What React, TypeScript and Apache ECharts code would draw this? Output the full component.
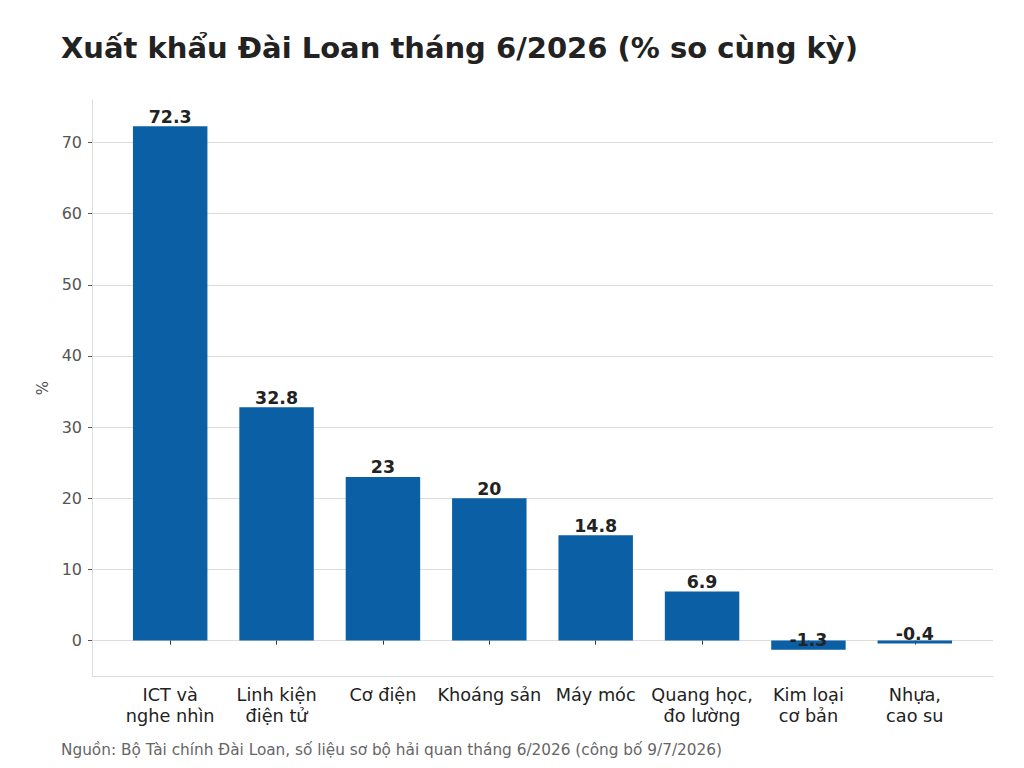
import { useEffect, useRef } from 'react';
import * as echarts from 'echarts';

const categories = [
  'ICT và\nnghe nhìn',
  'Linh kiện\nđiện tử',
  'Cơ điện',
  'Khoáng sản',
  'Máy móc',
  'Quang học,\nđo lường',
  'Kim loại\ncơ bản',
  'Nhựa,\ncao su',
];
const growth = [72.3, 32.8, 23, 20, 14.8, 6.9, -1.3, -0.4];
const yTicks = [0, 10, 20, 30, 40, 50, 60, 70];
const yMin = -4.98;
const yMax = 75.98;

const FONT = '"DejaVu Sans", sans-serif';

export default function App() {
  const ref = useRef<HTMLDivElement>(null);

  useEffect(() => {
    document.body.style.margin = '0';
    if (!ref.current) {
      return undefined;
    }

    const chart = echarts.init(ref.current, undefined, { renderer: 'svg' });
    const option: echarts.EChartsOption = {
      animation: false,
      backgroundColor: '#fff',
      textStyle: { fontFamily: FONT },
      title: [
        {
          text: 'Xuất khẩu Đài Loan tháng 6/2026 (% so cùng kỳ)',
          left: 56,
          top: 28,
          textStyle: { fontFamily: FONT, fontSize: 29, fontWeight: 'bold', color: '#222' },
        },
        {
          text: 'Nguồn: Bộ Tài chính Đài Loan, số liệu sơ bộ hải quan tháng 6/2026 (công bố 9/7/2026)',
          left: 56,
          top: 737,
          textStyle: { fontFamily: FONT, fontSize: 15.3, fontWeight: 'normal', color: '#666' },
        },
      ],
      grid: [
        // outer frame: spines, y labels, gridlines
        { left: 92, right: 31, top: 100, bottom: 92 },
        // inner area for the bars
        { left: 117, right: 56, top: 100, bottom: 92 },
      ],
      xAxis: [
        {
          gridIndex: 0,
          type: 'value',
          min: 0,
          max: 1,
          axisLine: { show: true, onZero: false, lineStyle: { color: '#dddddd', width: 1 } },
          axisTick: { show: false },
          axisLabel: { show: false },
          splitLine: { show: false },
        },
        {
          gridIndex: 1,
          type: 'category',
          data: categories,
          axisLine: { show: false },
          axisTick: { show: true, alignWithLabel: true, length: 4, lineStyle: { color: '#333' } },
          axisLabel: { color: '#222', fontSize: 17.7, lineHeight: 21, margin: 8, interval: 0, fontFamily: FONT },
        },
      ],
      yAxis: [
        {
          gridIndex: 0,
          type: 'value',
          min: yMin,
          max: yMax,
          name: '%',
          nameLocation: 'middle',
          nameRotate: 90,
          nameGap: 40,
          nameTextStyle: { color: '#555', fontSize: 15, fontFamily: FONT },
          axisLine: { show: true, lineStyle: { color: '#dddddd', width: 1 } },
          axisTick: { show: true, length: 4, customValues: yTicks, lineStyle: { color: '#555' } },
          axisLabel: { color: '#555', fontSize: 16, margin: 10, customValues: yTicks, fontFamily: FONT },
          splitLine: { show: true, lineStyle: { color: '#dddddd', width: 1 } },
        },
        {
          gridIndex: 1,
          type: 'value',
          min: yMin,
          max: yMax,
          show: false,
          splitLine: { show: false },
        },
      ],
      series: [
        {
          type: 'bar',
          xAxisIndex: 1,
          yAxisIndex: 1,
          data: growth,
          barWidth: '70%',
          itemStyle: { color: '#0b5fa5' },
          z: 2,
        },
        {
          // value labels anchored at each bar's value
          type: 'scatter',
          xAxisIndex: 1,
          yAxisIndex: 1,
          data: growth,
          symbolSize: 0,
          itemStyle: { opacity: 1, color: '#222' },
          z: 3,
          label: {
            show: true,
            position: 'top',
            distance: 1,
            color: '#222',
            opacity: 1,
            fontSize: 17.4,
            fontWeight: 'bold',
            fontFamily: FONT,
          },
        },
      ],
    };

    chart.setOption(option);
    return () => {
      chart.dispose();
    };
  }, []);

  return <div ref={ref} style={{ width: 1024, height: 768 }} />;
}
